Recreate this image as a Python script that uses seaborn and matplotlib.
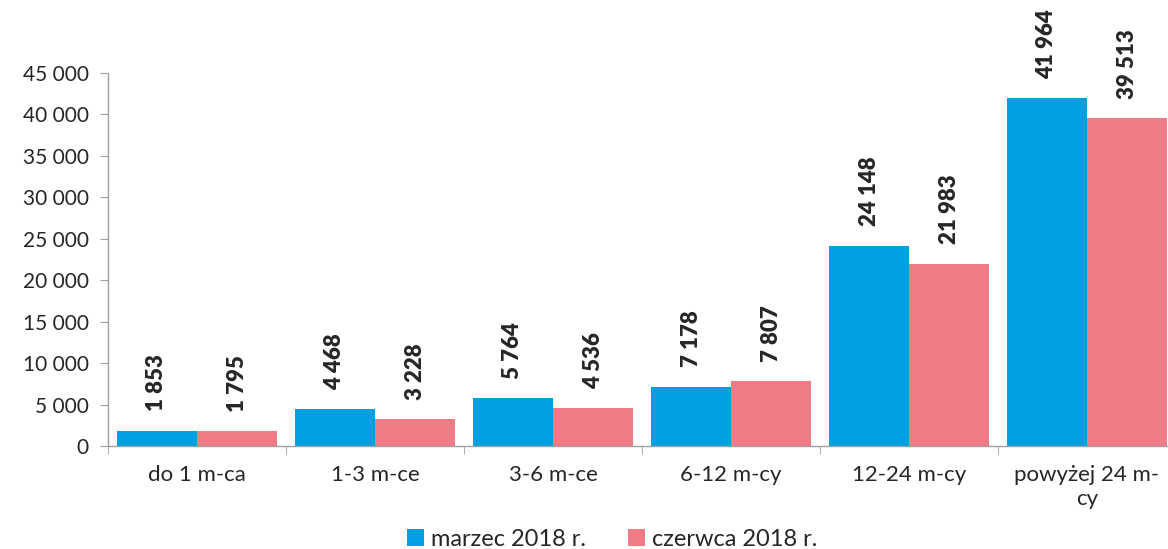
import pandas as pd
import matplotlib.pyplot as plt
import seaborn as sns
from matplotlib.ticker import FuncFormatter, FixedLocator

kategorie = ["do 1 m-ca", "1-3 m-ce", "3-6 m-ce", "6-12 m-cy", "12-24 m-cy", "powyżej 24 m-\ncy"]
marzec = [1853, 4468, 5764, 7178, 24148, 41964]
czerwiec = [1795, 3228, 4536, 7807, 21983, 39513]
serie = ["marzec 2018 r.", "czerwca 2018 r."]
kolory = ["#00A0E1", "#F07A85"]

df = pd.DataFrame({
    "Okres": kategorie * 2,
    "Liczba": marzec + czerwiec,
    "Seria": [serie[0]] * len(kategorie) + [serie[1]] * len(kategorie),
})

sns.set_style("white")
plt.rcParams["font.family"] = ["Lato", "DejaVu Sans"]

fig = plt.figure(figsize=(11.68, 5.49), dpi=100)
ax = fig.add_axes([0.0925, 0.1876, 0.9144, 0.6794])

sns.barplot(data=df, x="Okres", y="Liczba", hue="Seria", palette=kolory,
            width=0.9, saturation=1, ax=ax, edgecolor="none")

fmt = lambda v: f"{int(round(v)):,}".replace(",", " ")
for cont in ax.containers:
    ax.bar_label(cont, labels=[fmt(b.get_height()) for b in cont], rotation=90,
                 padding=14, fontsize=16, fontweight="heavy", clip_on=False)

ax.set_ylim(0, 45000)
ax.set_xlim(-0.5, len(kategorie) - 0.5)
ax.set_yticks(range(0, 45001, 5000))
ax.yaxis.set_major_formatter(FuncFormatter(lambda v, p: fmt(v)))
ax.tick_params(axis="y", labelsize=15, length=6, color="#A0A0A0", direction="out", left=True, pad=8)
ax.tick_params(axis="x", which="major", labelsize=16, length=0, pad=14)
ax.xaxis.set_minor_locator(FixedLocator([i - 0.5 for i in range(len(kategorie) + 1)]))
ax.tick_params(axis="x", which="minor", length=6, color="#A0A0A0", direction="out", bottom=True)
ax.set_xlabel("")
ax.set_ylabel("")

for s in ["top", "right"]:
    ax.spines[s].set_visible(False)
for s in ["left", "bottom"]:
    ax.spines[s].set_color("#A0A0A0")
    ax.spines[s].set_linewidth(1)

ax.legend(loc="center", bbox_to_anchor=(0.472, -0.25), ncol=2, frameon=False,
          fontsize=17, handlelength=0.7, handleheight=0.7, handletextpad=0.3, columnspacing=1.8,
          borderpad=0, borderaxespad=0)

fig.savefig("out.png", dpi=100)
